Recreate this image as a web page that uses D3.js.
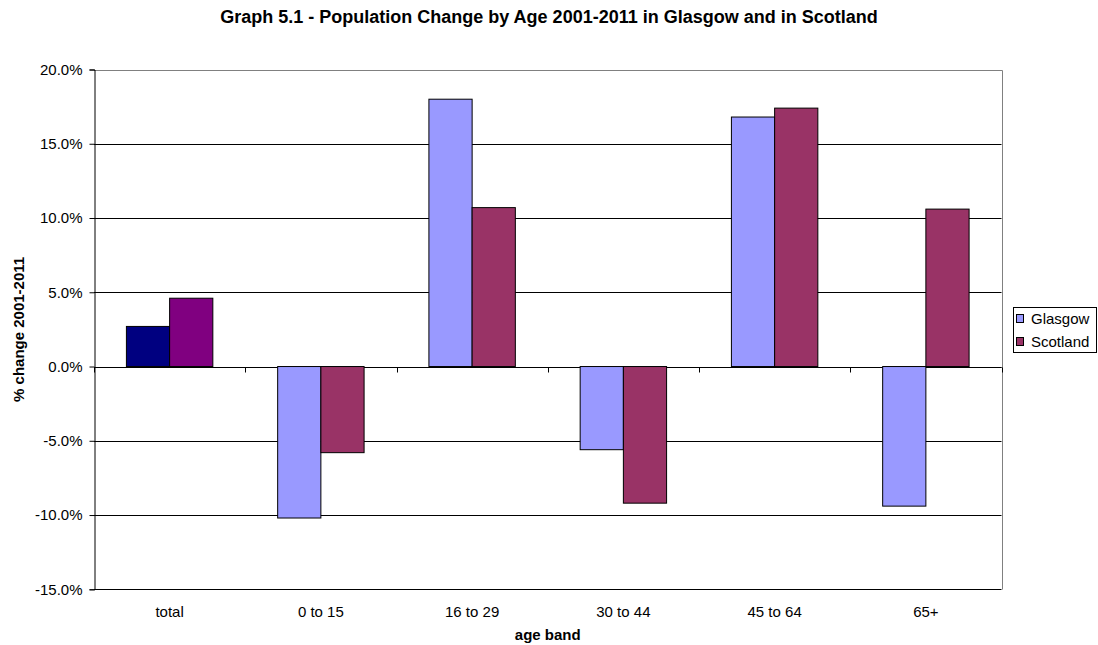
<!DOCTYPE html>
<html>
<head>
<meta charset="utf-8">
<script src="https://cdn.jsdelivr.net/npm/d3@7"></script>
<style>
  html, body { margin: 0; padding: 0; background: #fff; }
  svg { display: block; font-family: "Liberation Sans", Arial, sans-serif; }
</style>
</head>
<body>
<svg id="chart" width="1098" height="645"></svg>
<script>
// ---- data ----
const categories = ["total", "0 to 15", "16 to 29", "30 to 44", "45 to 64", "65+"];
const seriesNames = ["Glasgow", "Scotland"];
const glasgow = [2.7, -10.2, 18.0, -5.6, 16.8, -9.4];
const scotland = [4.6, -5.8, 10.7, -9.2, 17.4, 10.6];
const yTicks = [-15, -10, -5, 0, 5, 10, 15, 20];
const titleText = "Graph 5.1 - Population Change by Age 2001-2011 in Glasgow and in Scotland";
const xTitle = "age band";
const yTitle = "% change 2001-2011";

// colours (the "total" category uses its own point colours)
const seriesColors = ["#9999FF", "#993366"];
const totalColors = ["#000080", "#800080"];

// ---- layout ----
const W = 1098, H = 645;
const plot = { left: 94, right: 1001.5, top: 69.5, bottom: 589.3 };

const svg = d3.select("#chart");

const x0 = d3.scaleBand().domain(categories).range([plot.left, plot.right]).paddingInner(0).paddingOuter(0);
const x1 = d3.scaleBand().domain(seriesNames).range([0, x0.bandwidth()]).paddingInner(0).paddingOuter(0.75);
const y = d3.scaleLinear().domain([-15, 20]).range([plot.bottom, plot.top]);

const rows = categories.map((c, i) => ({ cat: c, idx: i, values: [glasgow[i], scotland[i]] }));

// gridlines
svg.append("g")
  .selectAll("line")
  .data(yTicks)
  .join("line")
  .attr("x1", plot.left).attr("x2", plot.right)
  .attr("y1", d => Math.round(y(d)) + 0.5).attr("y2", d => Math.round(y(d)) + 0.5)
  .attr("stroke", "#000").attr("stroke-width", 1);

// plot border (top/right grey)
svg.append("path")
  .attr("d", `M${plot.left},${Math.round(plot.top)+0.5}H${Math.round(plot.right)+0.5}V${Math.round(plot.bottom)+0.5}`)
  .attr("fill", "none").attr("stroke", "#808080").attr("stroke-width", 1);

// category axis at zero
const zeroY = Math.round(y(0)) + 0.5;
svg.append("line")
  .attr("x1", plot.left).attr("x2", plot.right)
  .attr("y1", zeroY).attr("y2", zeroY)
  .attr("stroke", "#000");
const boundaries = categories.map(c => x0(c)).concat([x0(categories[categories.length - 1]) + x0.bandwidth()]);
svg.append("g").selectAll("line")
  .data(boundaries).join("line")
  .attr("x1", d => Math.round(d) + 0.5).attr("x2", d => Math.round(d) + 0.5)
  .attr("y1", zeroY).attr("y2", zeroY + 5)
  .attr("stroke", "#000");

// bars
const groups = svg.append("g").selectAll("g")
  .data(rows).join("g")
  .attr("transform", d => `translate(${x0(d.cat)},0)`);

groups.selectAll("rect")
  .data(d => d.values.map((v, j) => ({ v, j, idx: d.idx })))
  .join("rect")
  .attr("x", d => x1(seriesNames[d.j]))
  .attr("width", x1.bandwidth())
  .attr("y", d => y(Math.max(0, d.v)))
  .attr("height", d => Math.abs(y(d.v) - y(0)))
  .attr("fill", d => d.idx === 0 ? totalColors[d.j] : seriesColors[d.j])
  .attr("stroke", "#000").attr("stroke-width", 1);

// y axis
const yAxis = d3.axisLeft(y).tickValues(yTicks).tickSize(5).tickPadding(7)
  .tickFormat(d => (d < 0 ? "-" : "") + Math.abs(d).toFixed(1) + "%");
const yg = svg.append("g").attr("transform", `translate(${plot.left + 0.5},0)`).call(yAxis);
yg.select(".domain").attr("stroke", "#000");
yg.selectAll(".tick line").attr("stroke", "#000");
yg.selectAll(".tick text").attr("font-size", 15).attr("fill", "#000")
  .attr("font-family", "'Liberation Sans', Arial, sans-serif");

// category labels
svg.append("g").selectAll("text")
  .data(categories).join("text")
  .attr("x", d => x0(d) + x0.bandwidth() / 2)
  .attr("y", 616.5)
  .attr("text-anchor", "middle")
  .attr("font-size", 15)
  .attr("fill", "#000")
  .text(d => d);

// titles
svg.append("text")
  .attr("x", W / 2).attr("y", 23)
  .attr("text-anchor", "middle")
  .attr("font-size", 18).attr("font-weight", "bold")
  .text(titleText);

svg.append("text")
  .attr("x", (plot.left + plot.right) / 2).attr("y", 640)
  .attr("text-anchor", "middle")
  .attr("font-size", 15).attr("font-weight", "bold")
  .text(xTitle);

svg.append("text")
  .attr("transform", `translate(24,${(plot.top + plot.bottom) / 2}) rotate(-90)`)
  .attr("text-anchor", "middle")
  .attr("font-size", 15).attr("font-weight", "bold")
  .text(yTitle);

// legend
const lg = svg.append("g");
lg.append("rect")
  .attr("x", 1013.5).attr("y", 307.5).attr("width", 83).attr("height", 45)
  .attr("fill", "#fff").attr("stroke", "#000");
seriesNames.forEach((s, i) => {
  lg.append("rect")
    .attr("x", 1016.5).attr("y", 314.5 + i * 23).attr("width", 7).attr("height", 8)
    .attr("fill", seriesColors[i]).attr("stroke", "#000");
  lg.append("text")
    .attr("x", 1031).attr("y", 324 + i * 23)
    .attr("font-size", 15).attr("fill", "#000")
    .text(s);
});
</script>
</body>
</html>
